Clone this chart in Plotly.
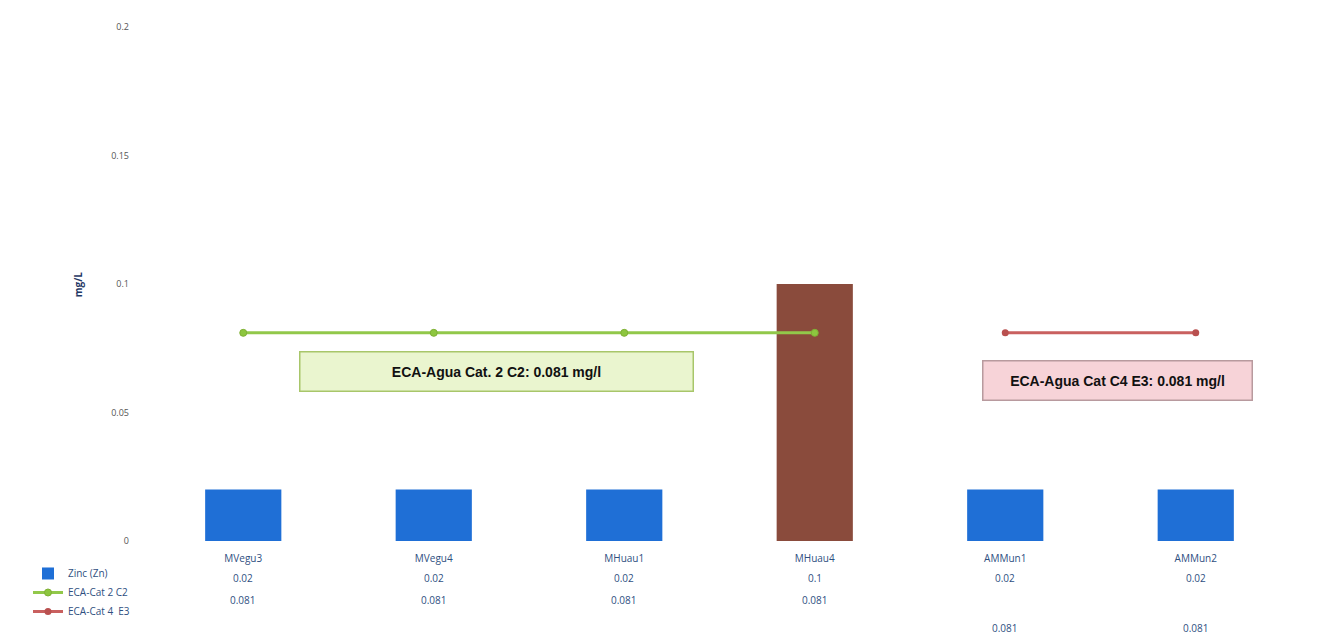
import plotly.graph_objects as go

categories = ["MVegu3", "MVegu4", "MHuau1", "MHuau4", "AMMun1", "AMMun2"]
zinc = [0.02, 0.02, 0.02, 0.1, 0.02, 0.02]
eca_c2 = [0.081, 0.081, 0.081, 0.081, None, None]
eca_e3 = [None, None, None, None, 0.081, 0.081]
bar_colors = ["#1F6FD6", "#1F6FD6", "#1F6FD6", "#8A4B3C", "#1F6FD6", "#1F6FD6"]
y_ticks = [0, 0.05, 0.1, 0.15, 0.2]
y_ticktext = ["0", "0.05", "0.1", "0.15", "0.2"]

txt_color = "#2F4F7F"
font_body = "Open Sans, Noto Sans, sans-serif"

fig = go.Figure()
fig.add_trace(go.Bar(
    x=categories, y=zinc, name="Zinc (Zn)",
    marker=dict(color=bar_colors, line=dict(width=0)),
    width=0.4,
))
fig.add_trace(go.Scatter(
    x=categories, y=eca_c2, name="ECA-Cat 2 C2", mode="lines+markers",
    line=dict(color="#92C84A", width=3),
    marker=dict(color="#8DC63F", size=7, line=dict(color="#7FB034", width=1)),
))
fig.add_trace(go.Scatter(
    x=categories, y=eca_e3, name="ECA-Cat 4  E3", mode="lines+markers",
    line=dict(color="#C9605F", width=3),
    marker=dict(color="#B9504F", size=7),
))

# data table values under the axis
def fmt(v):
    return f"{v:g}"

row_y = [-0.09, -0.133, -0.187]
for i, c in enumerate(categories):
    fig.add_annotation(x=c, y=row_y[0], xref="x", yref="paper", text=fmt(zinc[i]),
                       showarrow=False, font=dict(size=10, color=txt_color, family=font_body))
    if eca_c2[i] is not None:
        fig.add_annotation(x=c, y=row_y[1], xref="x", yref="paper", text=fmt(eca_c2[i]),
                           showarrow=False, font=dict(size=10, color=txt_color, family=font_body))
    if eca_e3[i] is not None:
        fig.add_annotation(x=c, y=row_y[2], xref="x", yref="paper", text=fmt(eca_e3[i]),
                           showarrow=False, font=dict(size=10, color=txt_color, family=font_body))

# standard labels
fig.add_annotation(x=1.33, y=0.0658, xref="x", yref="y",
                   text="<b>ECA-Agua Cat. 2 C2: 0.081 mg/l</b>", showarrow=False,
                   font=dict(size=14, color="#111111", family="Liberation Sans, Arial, sans-serif"),
                   bgcolor="#EAF5CF", bordercolor="#A8C66A", borderwidth=1.5,
                   width=390, height=36)
fig.add_annotation(x=4.59, y=0.0625, xref="x", yref="y",
                   text="<b>ECA-Agua Cat C4 E3: 0.081 mg/l</b>", showarrow=False,
                   font=dict(size=14, color="#111111", family="Liberation Sans, Arial, sans-serif"),
                   bgcolor="#F7D3D8", bordercolor="#B89A9E", borderwidth=1.5,
                   width=266, height=36)

# y-axis title
fig.add_annotation(x=-0.061, y=0.5, xref="paper", yref="paper", xanchor="center",
                   text="<b>mg/L</b>", textangle=-90, showarrow=False,
                   font=dict(size=10, color="#1F3864", family=font_body))

fig.update_layout(
    width=1328, height=643,
    margin=dict(l=140, r=45, t=13, b=110),
    paper_bgcolor="white", plot_bgcolor="white",
    bargap=0.6,
    showlegend=True,
    legend=dict(x=-0.105, y=-0.035, xanchor="left", yanchor="top",
                font=dict(size=10, color=txt_color, family=font_body),
                bgcolor="rgba(0,0,0,0)", tracegroupgap=0, itemwidth=30),
    font=dict(family=font_body),
)
fig.update_yaxes(range=[0, 0.2], tickvals=y_ticks, ticktext=y_ticktext,
                 showgrid=False, zeroline=False, showline=False,
                 ticklabelstandoff=18,
                 tickfont=dict(size=9, color="#555555", family=font_body))
fig.update_xaxes(showgrid=False, showline=False, zeroline=False,
                 ticklabelstandoff=10,
                 tickfont=dict(size=10, color=txt_color, family=font_body))

fig.write_html("out.html")
